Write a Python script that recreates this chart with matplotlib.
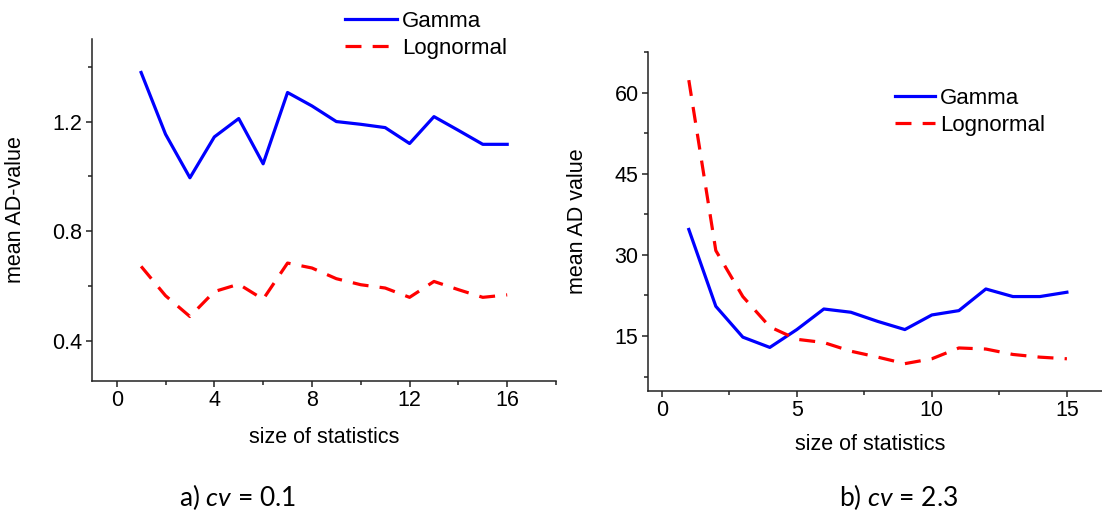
import matplotlib
matplotlib.use("Agg")
import matplotlib.pyplot as plt
from matplotlib.ticker import MultipleLocator

# panel a) cv = 0.1
size_a = [1, 2, 3, 4, 5, 6, 7, 8, 9, 10, 11, 12, 13, 14, 15, 16]
gamma_a = [1.379, 1.154, 0.995, 1.144, 1.211, 1.046, 1.306, 1.257,
           1.200, 1.190, 1.178, 1.120, 1.218, 1.168, 1.117, 1.117]
lognorm_a = [0.672, 0.565, 0.489, 0.580, 0.607, 0.552, 0.684, 0.666,
             0.627, 0.605, 0.593, 0.559, 0.617, 0.587, 0.559, 0.568]

# panel b) cv = 2.3
size_b = [1, 2, 3, 4, 5, 6, 7, 8, 9, 10, 11, 12, 13, 14, 15]
gamma_b = [34.7, 20.5, 14.8, 12.9, 16.2, 20.0, 19.4, 17.7,
           16.2, 18.9, 19.7, 23.7, 22.3, 22.3, 23.1]
lognorm_b = [62.3, 30.8, 22.3, 16.7, 14.4, 13.8, 12.2, 11.1,
             9.9, 10.8, 12.8, 12.6, 11.6, 11.1, 10.8]

plt.rcParams['font.family'] = ['Liberation Sans', 'DejaVu Sans']
plt.rcParams['font.size'] = 15.5
plt.rcParams['mathtext.fontset'] = 'custom'
plt.rcParams['mathtext.rm'] = 'Lato'
plt.rcParams['mathtext.it'] = 'Lato:italic'

W, H = 1102, 514
fig = plt.figure(figsize=(W / 100, H / 100), dpi=100)


def px_axes(x0, y0, x1, y1):
    return fig.add_axes([x0 / W, 1 - y1 / H, (x1 - x0) / W, (y1 - y0) / H])


def style(ax):
    for s in ['top', 'right']:
        ax.spines[s].set_visible(False)
    for s in ['left', 'bottom']:
        ax.spines[s].set_linewidth(1.1)
        ax.spines[s].set_color('#222222')
    ax.tick_params(which='major', direction='out', length=4, width=1.1, color='#222222', pad=3)
    ax.tick_params(which='minor', direction='out', length=3, width=1.1, color='#222222')


blue = '#0000ff'
red = '#ff0000'
dash = (0, (5, 3.5))

ax1 = px_axes(92.3, 39.3, 556, 380.7)
style(ax1)
l1, = ax1.plot(size_a, gamma_a, color=blue, lw=2.3, label='Gamma')
l2, = ax1.plot(size_a, lognorm_a, color=red, lw=2.3, ls=dash, label='Lognormal')
ax1.set_xlim(-1, 18)
ax1.set_ylim(0.255, 1.5)
ax1.xaxis.set_major_locator(MultipleLocator(4))
ax1.xaxis.set_minor_locator(MultipleLocator(2))
ax1.yaxis.set_major_locator(MultipleLocator(0.4))
ax1.yaxis.set_minor_locator(MultipleLocator(0.2))
ax1.set_ylabel('mean AD-value')
ax1.yaxis.set_label_coords(-0.142, 0.5)
ax1.set_xlabel('size of statistics')
ax1.xaxis.set_label_coords(0.5, -0.137)
fig.legend(handles=[l1, l2], loc='upper left', bbox_to_anchor=(345 / W, 1 - 11 / H),
           frameon=False, borderpad=0, borderaxespad=0, handlelength=2.35,
           handletextpad=0.23, labelspacing=0.25, fontsize=16)

ax2 = px_axes(648.3, 52, 1102, 390.7)
style(ax2)
m1, = ax2.plot(size_b, gamma_b, color=blue, lw=2.3, label='Gamma')
m2, = ax2.plot(size_b, lognorm_b, color=red, lw=2.3, ls=dash, label='Lognormal')
ax2.set_xlim(-0.5, 16.3)
ax2.set_ylim(4.9, 67.5)
ax2.xaxis.set_major_locator(MultipleLocator(5))
ax2.xaxis.set_minor_locator(MultipleLocator(2.5))
ax2.yaxis.set_major_locator(MultipleLocator(15))
ax2.yaxis.set_minor_locator(MultipleLocator(7.5))
ax2.set_ylabel('mean AD value')
ax2.yaxis.set_label_coords(-0.133, 0.5)
ax2.set_xlabel('size of statistics')
ax2.xaxis.set_label_coords(0.489, -0.127)
fig.legend(handles=[m1, m2], loc='upper left', bbox_to_anchor=(895 / W, 1 - 88 / H),
           frameon=False, borderpad=0, borderaxespad=0, handlelength=1.8,
           handletextpad=0.23, labelspacing=0.25, fontsize=16)

fig.text(238 / W, 1 - 497 / H, r'a) $\mathit{cv}$ = 0.1', ha='center', va='center',
         fontsize=19, family='Lato')
fig.text(899 / W, 1 - 497 / H, r'b) $\mathit{cv}$ = 2.3', ha='center', va='center',
         fontsize=19, family='Lato')

fig.savefig('out.png', dpi=100)
